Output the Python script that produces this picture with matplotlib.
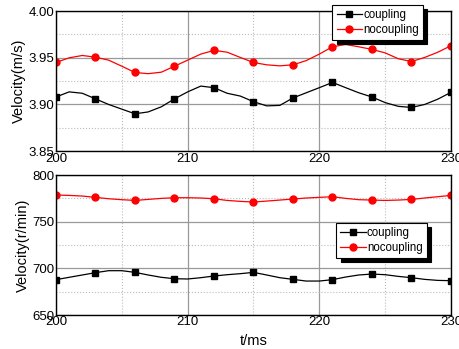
import numpy as np
import matplotlib
matplotlib.use('Agg')
import matplotlib.pyplot as plt
from matplotlib.ticker import MultipleLocator, FormatStrFormatter

plt.rcParams['font.family'] = ['Liberation Sans', 'DejaVu Sans']

# time axis (ms): dense line samples and marker positions
t_line = list(range(200, 231))
t_mark = list(range(200, 231, 3))

# top panel: velocity (m/s)
v_coup = [3.908, 3.9135, 3.912, 3.906, 3.900, 3.895, 3.890, 3.892, 3.8975, 3.906,
          3.9135, 3.9197, 3.918, 3.912, 3.909, 3.903, 3.8985, 3.899, 3.907, 3.9125,
          3.918, 3.9236, 3.918, 3.9125, 3.908, 3.902, 3.898, 3.8968, 3.900, 3.9057, 3.913]
v_nocoup = [3.945, 3.950, 3.9525, 3.9507, 3.9475, 3.941, 3.9343, 3.933, 3.9346, 3.941,
            3.9475, 3.954, 3.958, 3.956, 3.9504, 3.945, 3.9425, 3.9414, 3.9425, 3.947,
            3.954, 3.9618, 3.9643, 3.9618, 3.959, 3.9553, 3.949, 3.946, 3.9504, 3.956, 3.963]

# bottom panel: velocity (r/min)
n_coup = [687.9, 690.4, 692.9, 695.4, 697.5, 697.5, 695.7, 692.9, 690.4, 688.9,
          688.6, 690.0, 691.8, 693.2, 694.3, 695.7, 692.9, 690.0, 688.2, 686.4,
          686.4, 687.9, 690.7, 692.9, 693.9, 693.2, 691.4, 690.0, 688.2, 687.1, 686.8]
n_nocoup = [778.6, 778.2, 777.5, 776.1, 774.6, 773.6, 772.8, 773.9, 775.0, 775.7,
            775.7, 775.4, 774.6, 772.8, 771.8, 771.1, 772.1, 773.2, 774.3, 775.4,
            776.1, 776.8, 775.0, 773.6, 773.2, 772.8, 773.2, 773.9, 775.4, 776.8, 778.2]

fig = plt.figure(figsize=(4.6, 3.49), dpi=100)
ax1 = fig.add_axes([0.1217, 0.567, 0.8587, 0.401])
ax2 = fig.add_axes([0.1217, 0.0974, 0.8587, 0.401])

def draw(ax, coup, nocoup, ylim, ystep, ylabel, leg_anchor, yfmt):
    idx = [t_line.index(t) for t in t_mark]
    ax.plot(t_line, coup, color='black', lw=0.9)
    ax.plot(t_line, nocoup, color='red', lw=0.9)
    ax.plot(t_mark, [coup[i] for i in idx], 's', color='black', ms=4.5)
    ax.plot(t_mark, [nocoup[i] for i in idx], 'o', color='red', ms=5)
    # legend proxies
    h1, = ax.plot([], [], '-s', color='black', lw=0.9, ms=4.5, label='coupling')
    h2, = ax.plot([], [], '-o', color='red', lw=0.9, ms=5, label='nocoupling')
    ax.set_xlim(200, 230)
    ax.set_ylim(*ylim)
    ax.xaxis.set_major_locator(MultipleLocator(10))
    ax.xaxis.set_minor_locator(MultipleLocator(5))
    ax.yaxis.set_major_locator(MultipleLocator(ystep))
    ax.yaxis.set_minor_locator(MultipleLocator(ystep / 2))
    ax.yaxis.set_major_formatter(FormatStrFormatter(yfmt))
    ax.grid(which='major', color='#999999', lw=0.9)
    ax.grid(which='minor', color='#bbbbbb', lw=0.8, ls=':')
    ax.tick_params(which='both', length=0, pad=1, labelsize=9.5)
    for s in ax.spines.values():
        s.set_linewidth(1.0)
    ax.set_ylabel(ylabel, fontsize=10.5, labelpad=2)
    leg = ax.legend(handles=[h1, h2], loc='upper left', bbox_to_anchor=leg_anchor,
                    fontsize=8.3, frameon=True, fancybox=False, edgecolor='black',
                    framealpha=1, borderpad=0.35, labelspacing=0.25, handlelength=2.2,
                    handletextpad=0.1, borderaxespad=0,
                    shadow={'color': 'black', 'alpha': 1, 'ox': 3, 'oy': -3})
    leg.get_frame().set_linewidth(0.8)

draw(ax1, v_coup, v_nocoup, (3.85, 4.00), 0.05, 'Velocity(m/s)', (0.70, 1.045), '%.2f')
draw(ax2, n_coup, n_nocoup, (650, 800), 50, 'Velocity(r/min)', (0.71, 0.66), '%d')
ax2.set_xlabel('t/ms', fontsize=10.5, labelpad=4)

fig.savefig('out.png', dpi=100)
